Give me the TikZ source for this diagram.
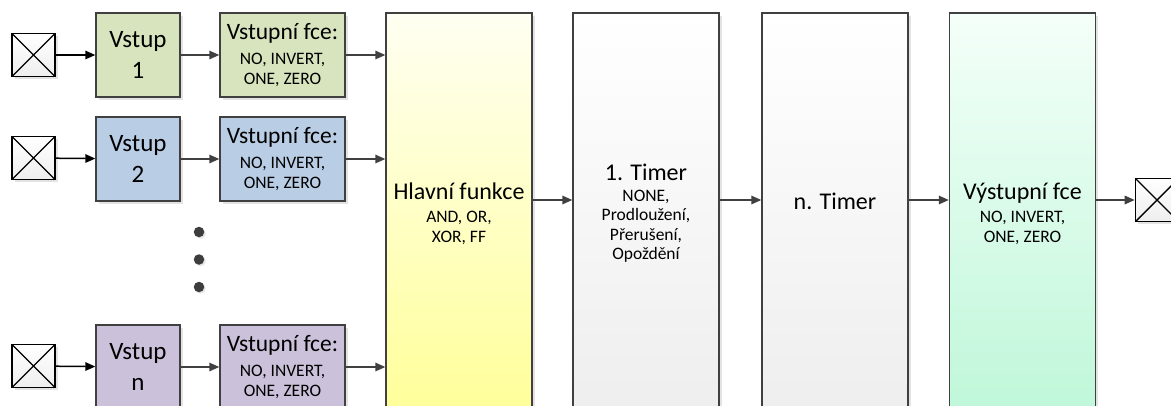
\documentclass[tikz,border=0pt]{standalone}
\usepackage{fontspec}
\setmainfont{Carlito}
\usetikzlibrary{arrows.meta,shadows}

\definecolor{edge}{HTML}{404040}
\definecolor{olivefill}{HTML}{D7E4BD}
\definecolor{bluefill}{HTML}{B9CDE5}
\definecolor{violetfill}{HTML}{CCC1DA}
\definecolor{yellowlow}{HTML}{FFFF99}
\definecolor{yellowtop}{HTML}{FFFFF2}
\definecolor{greylow}{HTML}{EEEEEE}
\definecolor{greentop}{HTML}{F4FFF9}
\definecolor{greenlow}{HTML}{BFF7D9}

\newcommand{\bigtxt}{\fontsize{24}{29}\selectfont}
\newcommand{\smalltxt}{\fontsize{17.5}{19.5}\selectfont}

\tikzset{
  x=1pt, y=-1pt,
  shade/.style={drop shadow={shadow xshift=2.5pt, shadow yshift=-2.5pt, opacity=.22}},
  blockbox/.style={rectangle, draw=edge, line width=1.4pt, inner sep=0pt, shade},
  inbox/.style={blockbox, minimum width=84pt, minimum height=84pt,
    align=center, font=\fontsize{25}{31}\selectfont},
  fnbox/.style={blockbox, minimum width=125pt, minimum height=84pt,
    align=center, font=\smalltxt},
  tallbox/.style={blockbox, minimum width=146pt, minimum height=402pt},
  boxtext/.style={align=center, font=\smalltxt, inner sep=0pt},
  port/.style={rectangle, draw=black, line width=1.6pt, minimum size=43pt,
    inner sep=0pt, top color=white, bottom color=greylow, shade,
    path picture={\draw[black, line width=1.4pt]
      (path picture bounding box.north west) -- (path picture bounding box.south east)
      (path picture bounding box.north east) -- (path picture bounding box.south west);}},
  flow/.style={draw=edge, line width=1.5pt, -{Triangle[length=10pt,width=8.5pt]}},
  feed/.style={flow, draw=black},
  dotmark/.style={circle, fill=edge!95!black, minimum size=10.5pt, inner sep=0pt,
    drop shadow={shadow xshift=1.5pt, shadow yshift=-1.5pt, opacity=.2}},
}

\begin{document}
\begin{tikzpicture}
\useasboundingbox (0,0) rectangle (1171,405);
\clip (0,0) rectangle (1171,405);

% input ports
\node[port] (p1) at (33.5,55) {};
\node[port] (p2) at (33.5,158) {};
\node[port] (pn) at (33.5,366) {};

% input blocks
\node[inbox, fill=olivefill]  (in1) at (138,55)  {Vstup\\1};
\node[inbox, fill=bluefill]   (in2) at (138,159) {Vstup\\2};
\node[inbox, fill=violetfill] (inn) at (138,367) {Vstup\\n};

% input functions
\node[fnbox, fill=olivefill]  (vf1) at (282.5,55)
  {{\fontsize{23.5}{25}\selectfont Vstupní fce:}\\[5.5pt]NO, INVERT,\\ONE, ZERO};
\node[fnbox, fill=bluefill]   (vf2) at (282.5,159)
  {{\fontsize{23.5}{25}\selectfont Vstupní fce:}\\[5.5pt]NO, INVERT,\\ONE, ZERO};
\node[fnbox, fill=violetfill] (vfn) at (282.5,367)
  {{\fontsize{23.5}{25}\selectfont Vstupní fce:}\\[5.5pt]NO, INVERT,\\ONE, ZERO};

% dots between rows
\node[dotmark] (d1) at (199,232) {};
\node[dotmark] (d2) at (199,259.5) {};
\node[dotmark] (d3) at (199,287) {};

% processing chain
\node[tallbox, top color=yellowtop, bottom color=yellowlow] (hf) at (459,214) {};
\node[tallbox, top color=white, bottom color=greylow]       (t1) at (646,214) {};
\node[tallbox, top color=white, bottom color=greylow]       (tn) at (835,214) {};
\node[tallbox, top color=greentop, bottom color=greenlow]   (vy) at (1022.5,214) {};

\node[boxtext] (hf-text) at (459,214)
  {{\bigtxt Hlavní funkce}\\[3.5pt]AND, OR,\\XOR, FF};
\node[boxtext] (t1-text) at (646,213)
  {{\bigtxt 1. Timer}\\[1.5pt]NONE,\\Prodloužení,\\Přerušení,\\Opoždění};
\node[boxtext, font=\bigtxt] (tn-text) at (835,201) {n. Timer};
\node[boxtext] (vy-text) at (1022.5,214)
  {{\bigtxt Výstupní fce}\\[3.5pt]NO, INVERT,\\ONE, ZERO};

% output port
\node[port] (po) at (1157,200) {};

% connectors
\draw[feed] (p1) -- (in1);
\draw[feed] (p2) -- (in2);
\draw[feed] (pn) -- (inn);
\draw[flow] (in1) -- (vf1);
\draw[flow] (in2) -- (vf2);
\draw[flow] (inn) -- (vfn);
\draw[flow] (vf1.east) -- (vf1.east -| hf.west);
\draw[flow] (vf2.east) -- (vf2.east -| hf.west);
\draw[flow] (vfn.east) -- (vfn.east -| hf.west);
\draw[flow] (po -| hf.east) -- (po -| t1.west);
\draw[flow] (po -| t1.east) -- (po -| tn.west);
\draw[flow] (po -| tn.east) -- (po -| vy.west);
\draw[flow] (po -| vy.east) -- (po.west);
\end{tikzpicture}
\end{document}
